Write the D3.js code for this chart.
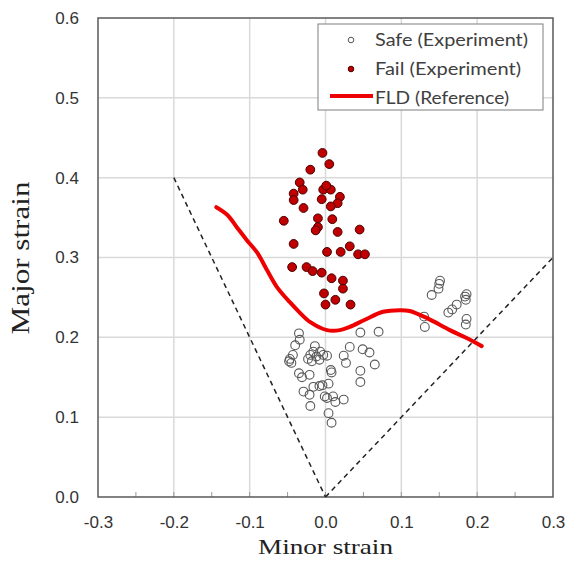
<!DOCTYPE html>
<html>
<head>
<meta charset="utf-8">
<script src="https://cdn.jsdelivr.net/npm/d3@7"></script>
<style>
  body { margin: 0; background: #fff; }
</style>
</head>
<body>
<div id="chart"></div>
<script>
// safe points (hollow circles)
var safeX = [-0.035, -0.034, -0.040, 0.046, 0.070, -0.014, -0.016, -0.007, -0.003, 0.002, -0.012, -0.020, -0.023, -0.018, -0.008,
  -0.043, -0.047, -0.045, -0.048, 0.032, 0.049, 0.058, 0.024, 0.027, 0.065, 0.007, 0.008, 0.046, 0.046, -0.035, -0.031, -0.021,
  0.004, -0.004, -0.008, -0.016, -0.029, -0.021, -0.001, 0.002, 0.010, 0.013, 0.024, -0.020, 0.004, 0.008,
  0.150, 0.151, 0.149, 0.140, 0.186, 0.184, 0.185, 0.173, 0.167, 0.162, 0.186, 0.185, 0.130, 0.131];
var safeY = [0.205, 0.197, 0.190, 0.206, 0.207, 0.189, 0.182, 0.182, 0.178, 0.177, 0.176, 0.178, 0.173, 0.170, 0.172,
  0.178, 0.173, 0.168, 0.170, 0.188, 0.185, 0.181, 0.177, 0.168, 0.166, 0.159, 0.156, 0.158, 0.144, 0.155, 0.150, 0.153,
  0.142, 0.140, 0.139, 0.138, 0.132, 0.128, 0.126, 0.124, 0.126, 0.119, 0.122, 0.114, 0.105, 0.093,
  0.267, 0.271, 0.261, 0.253, 0.254, 0.251, 0.247, 0.241, 0.235, 0.231, 0.223, 0.216, 0.226, 0.213];

// fail points (filled red)
var failX = [-0.004, 0.005, -0.020, -0.034, -0.042, -0.030, -0.042, -0.003, 0.007, 0.001, -0.005, 0.019, 0.016, 0.007,
  -0.029, -0.055, -0.010, 0.009, -0.010, -0.013, 0.045, 0.016, -0.042, 0.032, 0.002, 0.020, 0.043, 0.052,
  -0.044, -0.025, -0.017, -0.005, 0.008, 0.023, 0.023, -0.002, 0.013, 0.000, 0.033];
var failY = [0.431, 0.417, 0.410, 0.394, 0.380, 0.385, 0.372, 0.385, 0.385, 0.390, 0.373, 0.376, 0.368, 0.364,
  0.362, 0.346, 0.349, 0.348, 0.338, 0.334, 0.335, 0.332, 0.317, 0.314, 0.307, 0.307, 0.304, 0.304,
  0.288, 0.288, 0.283, 0.281, 0.274, 0.271, 0.261, 0.255, 0.247, 0.241, 0.241];

// FLD reference curve
var fldX = [-0.144, -0.129, -0.117, -0.104, -0.090, -0.077, -0.064, -0.047, -0.034, -0.020, 0.002, 0.019, 0.032,
  0.052, 0.076, 0.098, 0.111, 0.134, 0.164, 0.184, 0.206];
var fldY = [0.363, 0.353, 0.338, 0.322, 0.306, 0.284, 0.263, 0.244, 0.231, 0.219, 0.209, 0.209, 0.213,
  0.222, 0.232, 0.234, 0.233, 0.224, 0.209, 0.200, 0.189];

// strain path guide lines
var guideLeft = [[-0.2, 0.4], [0, 0]];
var guideRight = [[0, 0], [0.3, 0.3]];

var xTicks = [-0.3, -0.2, -0.1, 0.0, 0.1, 0.2, 0.3];
var yTicks = [0.0, 0.1, 0.2, 0.3, 0.4, 0.5, 0.6];
var legendText = ["Safe (Experiment)", "Fail (Experiment)", "FLD (Reference)"];

var margin = {top: 18, right: 13, bottom: 66, left: 98},
    width = 566 - margin.left - margin.right,
    height = 563 - margin.top - margin.bottom;

var svg = d3.select("#chart")
    .append("svg")
    .attr("width", 566)
    .attr("height", 563)
    .append("g")
    .attr("transform", "translate(" + margin.left + "," + margin.top + ")");

var x = d3.scaleLinear().domain([-0.3, 0.3]).range([0, width]);
var y = d3.scaleLinear().domain([0, 0.6]).range([height, 0]);

// plain hyphen minus like the original
var fmt = function (d) { return d.toFixed(1); };

// gridlines
svg.append("g")
    .selectAll("line")
    .data(xTicks.slice(1, -1))
    .enter()
    .append("line")
    .attr("x1", function (d) { return x(d); })
    .attr("x2", function (d) { return x(d); })
    .attr("y1", 0)
    .attr("y2", height)
    .style("stroke", "#d9d9d9")
    .style("stroke-width", 1.5);
svg.append("g")
    .selectAll("line")
    .data(yTicks.slice(1, -1))
    .enter()
    .append("line")
    .attr("x1", 0)
    .attr("x2", width)
    .attr("y1", function (d) { return y(d); })
    .attr("y2", function (d) { return y(d); })
    .style("stroke", "#d9d9d9")
    .style("stroke-width", 1.5);

// X axis (labels only, plus small inside ticks)
var xAxis = svg.append("g")
    .attr("transform", "translate(0," + height + ")")
    .call(d3.axisBottom(x).tickValues(xTicks).tickSize(0).tickPadding(19).tickFormat(fmt));
xAxis.select(".domain").remove();
xAxis.selectAll("text")
    .style("font-family", "Arial, 'Liberation Sans', sans-serif")
    .style("font-size", "17px")
    .style("fill", "#333");

svg.append("g")
    .selectAll("line")
    .data(d3.range(-0.25, 0.3, 0.05))
    .enter()
    .append("line")
    .attr("x1", function (d) { return x(d); })
    .attr("x2", function (d) { return x(d); })
    .attr("y1", height)
    .attr("y2", height - 5)
    .style("stroke", "#999");

// Y axis
var yAxis = svg.append("g")
    .call(d3.axisLeft(y).tickValues(yTicks).tickSize(0).tickPadding(19).tickFormat(fmt));
yAxis.select(".domain").remove();
yAxis.selectAll("text")
    .style("font-family", "Arial, 'Liberation Sans', sans-serif")
    .style("font-size", "17px")
    .style("fill", "#333");

// plot frame
svg.append("rect")
    .attr("width", width)
    .attr("height", height)
    .style("fill", "none")
    .style("stroke", "#595959")
    .style("stroke-width", 1.5);

// dashed guide lines
var line = d3.line()
    .x(function (d) { return x(d[0]); })
    .y(function (d) { return y(d[1]); });
[guideLeft, guideRight].forEach(function (g) {
    svg.append("path")
        .attr("d", line(g))
        .style("fill", "none")
        .style("stroke", "#222")
        .style("stroke-width", 1.5)
        .style("stroke-dasharray", "5,4");
});

// safe points
svg.append("g")
    .selectAll("circle")
    .data(safeX)
    .enter()
    .append("circle")
    .attr("cx", function (d) { return x(d); })
    .attr("cy", function (d, i) { return y(safeY[i]); })
    .attr("r", 4.4)
    .style("fill", "none")
    .style("stroke", "#595959")
    .style("stroke-width", 1.1);

// fail points
svg.append("g")
    .selectAll("circle")
    .data(failX)
    .enter()
    .append("circle")
    .attr("cx", function (d) { return x(d); })
    .attr("cy", function (d, i) { return y(failY[i]); })
    .attr("r", 4.4)
    .style("fill", "#c00000")
    .style("stroke", "#4a0000")
    .style("stroke-width", 1);

// FLD curve
var fldLine = d3.line()
    .x(function (d) { return x(d); })
    .y(function (d, i) { return y(fldY[i]); })
    .curve(d3.curveCatmullRom);
svg.append("path")
    .attr("d", fldLine(fldX))
    .style("fill", "none")
    .style("stroke", "#ee0000")
    .style("stroke-width", 4)
    .style("stroke-linecap", "round");

// legend
var legend = svg.append("g").attr("transform", "translate(220,6)");
legend.append("rect")
    .attr("width", 225)
    .attr("height", 86)
    .style("fill", "#fff")
    .style("stroke", "#7f7f7f")
    .style("stroke-width", 1);
legend.append("circle")
    .attr("cx", 33).attr("cy", 16).attr("r", 2.8)
    .style("fill", "none").style("stroke", "#555");
legend.append("circle")
    .attr("cx", 33).attr("cy", 45).attr("r", 2.8)
    .style("fill", "#c00000").style("stroke", "#4a0000");
legend.append("line")
    .attr("x1", 12).attr("x2", 55).attr("y1", 72).attr("y2", 72)
    .style("stroke", "#ee0000").style("stroke-width", 4);
var legendLen = [153, 146, 134];
legend.selectAll("text.lbl")
    .data(legendText)
    .enter()
    .append("text")
    .attr("class", "lbl")
    .attr("x", 57)
    .attr("y", function (d, i) { return 22 + i * 29; })
    .attr("textLength", function (d, i) { return legendLen[i]; })
    .attr("lengthAdjust", "spacingAndGlyphs")
    .style("font-family", "Lato, 'Open Sans', sans-serif")
    .style("font-size", "18px")
    .style("fill", "#404040")
    .text(function (d) { return d; });

// axis titles
svg.append("text")
    .attr("x", width / 2)
    .attr("y", height + 57)
    .attr("text-anchor", "middle")
    .attr("textLength", 135)
    .attr("lengthAdjust", "spacingAndGlyphs")
    .style("font-family", "'Liberation Serif', 'Times New Roman', serif")
    .style("font-size", "22px")
    .style("fill", "#222")
    .text("Minor strain");
svg.append("text")
    .attr("transform", "rotate(-90)")
    .attr("x", -240)
    .attr("y", -69)
    .attr("text-anchor", "middle")
    .attr("textLength", 153)
    .attr("lengthAdjust", "spacingAndGlyphs")
    .style("font-family", "'Liberation Serif', 'Times New Roman', serif")
    .style("font-size", "26px")
    .style("fill", "#222")
    .text("Major strain");
</script>
</body>
</html>
